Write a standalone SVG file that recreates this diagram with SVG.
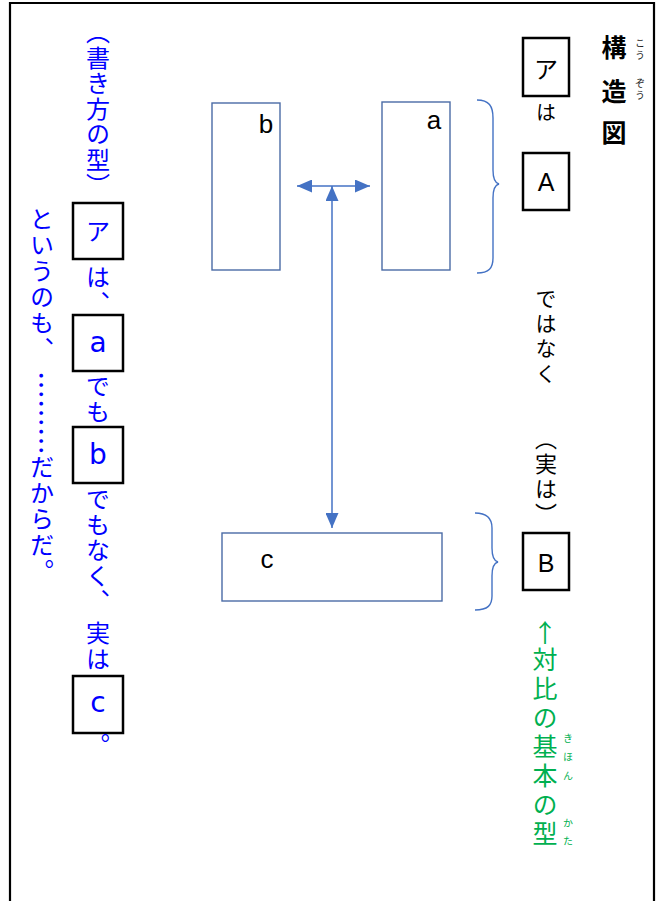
<svg xmlns="http://www.w3.org/2000/svg" width="657" height="901" viewBox="0 0 657 901">
<defs>
<style>
.jp{font-family:"Noto Sans CJK JP","Noto Sans CJK SC",sans-serif;}
.v{writing-mode:vertical-rl;}
.blue{fill:#0000FF;}
.green{fill:#00B050;}
.blk{fill:#000;}
.lat{font-family:"Liberation Sans",Arial,sans-serif;}
.dj{font-family:"DejaVu Sans","Liberation Sans",sans-serif;}
.kbox{fill:none;stroke:#000;stroke-width:2.5;}
.nbox{fill:#fff;stroke:#4A6BA6;stroke-width:1.4;}
.brace{fill:none;stroke:#4472C4;stroke-width:1.4;}
.arr{stroke:#4472C4;stroke-width:1.5;fill:none;marker-start:url(#ah);marker-end:url(#ah);}
</style>
<marker id="ah" markerUnits="userSpaceOnUse" markerWidth="15" markerHeight="13" viewBox="0 0 15 13" refX="15" refY="6.5" orient="auto-start-reverse">
<path d="M0,0 L15,6.5 L0,13 z" fill="#4472C4"/>
</marker>
</defs>
<rect width="657" height="901" fill="#fff"/>
<path d="M10,901 L10,3 L654,3 L654,901" fill="none" stroke="#000" stroke-width="2.2"/>

<g id="title">
<text class="jp blk" x="614" y="57" font-size="25" font-weight="bold" text-anchor="middle">構</text>
<text class="jp blk" x="614" y="101" font-size="25" font-weight="bold" text-anchor="middle">造</text>
<text class="jp blk" x="614" y="142" font-size="25" font-weight="bold" text-anchor="middle">図</text>
<text class="jp v" x="640" y="38" font-size="10" letter-spacing="2" fill="#222">こう</text>
<text class="jp v" x="640" y="78" font-size="10" letter-spacing="2" fill="#222">ぞう</text>
</g>

<g id="box-a-kata">
<rect class="kbox" x="523" y="38" width="46" height="58"/>
<text class="jp blk" x="546" y="78" font-size="24" text-anchor="middle">ア</text>
</g>
<g id="label-ha">
<text class="jp v blk" x="546" y="102" font-size="20">は</text>
</g>
<g id="box-A">
<rect class="kbox" x="523" y="153" width="46" height="57"/>
<text class="lat blk" x="546" y="191" font-size="25" text-anchor="middle">A</text>
</g>
<g id="label-dewanaku">
<text class="jp v blk" x="546" y="288" font-size="21" letter-spacing="4">ではなく</text>
</g>
<g id="label-jitsuwa">
<text class="jp v blk" x="546" y="428" font-size="22" letter-spacing="3">（実は）</text>
</g>
<g id="box-B">
<rect class="kbox" x="523" y="533" width="46" height="57"/>
<text class="lat blk" x="546" y="572" font-size="25" text-anchor="middle">B</text>
</g>
<g id="label-taihi">
<text class="jp green" x="545" y="642" font-size="25" text-anchor="middle">↑</text>
<text class="jp v green" x="545" y="647" font-size="25" letter-spacing="4">対比の基本の型</text>
<text class="jp v green" x="568" y="733" font-size="10" letter-spacing="9">きほん</text>
<text class="jp v green" x="568" y="818" font-size="10" letter-spacing="8">かた</text>
</g>

<g id="node-b">
<rect class="nbox" x="212" y="103" width="68" height="167"/>
<text class="lat blk" x="266" y="133" font-size="26" text-anchor="middle">b</text>
</g>
<g id="node-a">
<rect class="nbox" x="382" y="102" width="68" height="168"/>
<text class="lat blk" x="434" y="129" font-size="26" text-anchor="middle">a</text>
</g>
<g id="node-c">
<rect class="nbox" x="222" y="533" width="220" height="68"/>
<text class="lat blk" x="267" y="568" font-size="26" text-anchor="middle">c</text>
</g>

<g id="connectors">
<line class="arr" x1="297" y1="186" x2="370" y2="186"/>
<line class="arr" x1="332" y1="186" x2="332" y2="528"/>
<path class="brace" d="M477,100 C489,100 493,106 493,118 L493,170 C493,178 495,183 499,184 C495,185 493,190 493,198 L493,258 C493,268 489,273 477,273"/>
<path class="brace" d="M475,513 C488,513 492,519 492,528 L492,548 C492,556 494,561 498,562 C494,563 492,568 492,576 L492,596 C492,605 488,610 475,610"/>
</g>

<g id="left-col1">
<text class="jp v blue" x="98" y="20" font-size="24" letter-spacing="1.5">（書き方の型）</text>
<rect class="kbox" x="73" y="203" width="50" height="56"/>
<text class="jp blue" x="98" y="240" font-size="24" text-anchor="middle">ア</text>
<text class="jp v blue" x="98" y="265" font-size="24" letter-spacing="1.5">は、</text>
<rect class="kbox" x="73" y="315" width="50" height="56"/>
<text class="dj blue" x="98" y="352" font-size="28" text-anchor="middle">a</text>
<text class="jp v blue" x="98" y="374" font-size="24" letter-spacing="1.5">でも</text>
<rect class="kbox" x="73" y="427" width="50" height="56"/>
<text class="dj blue" x="98" y="464" font-size="28" text-anchor="middle">b</text>
<text class="jp v blue" x="98" y="487" font-size="24" letter-spacing="1.5">でもなく、</text>
<text class="jp v blue" x="98" y="621" font-size="24" letter-spacing="1.5">実は</text>
<rect class="kbox" x="73" y="676" width="50" height="57"/>
<text class="dj blue" x="98" y="712" font-size="28" text-anchor="middle">c</text>
<text class="jp v blue" x="98" y="733" font-size="24">。</text>
</g>

<g id="left-col2">
<text class="jp v blue" x="42" y="207" font-size="24" letter-spacing="2">というのも、</text>
<text class="jp v blue" x="42" y="371" font-size="28">………</text>
<text class="jp v blue" x="42" y="455" font-size="24" letter-spacing="2">だからだ。</text>
</g>
</svg>
